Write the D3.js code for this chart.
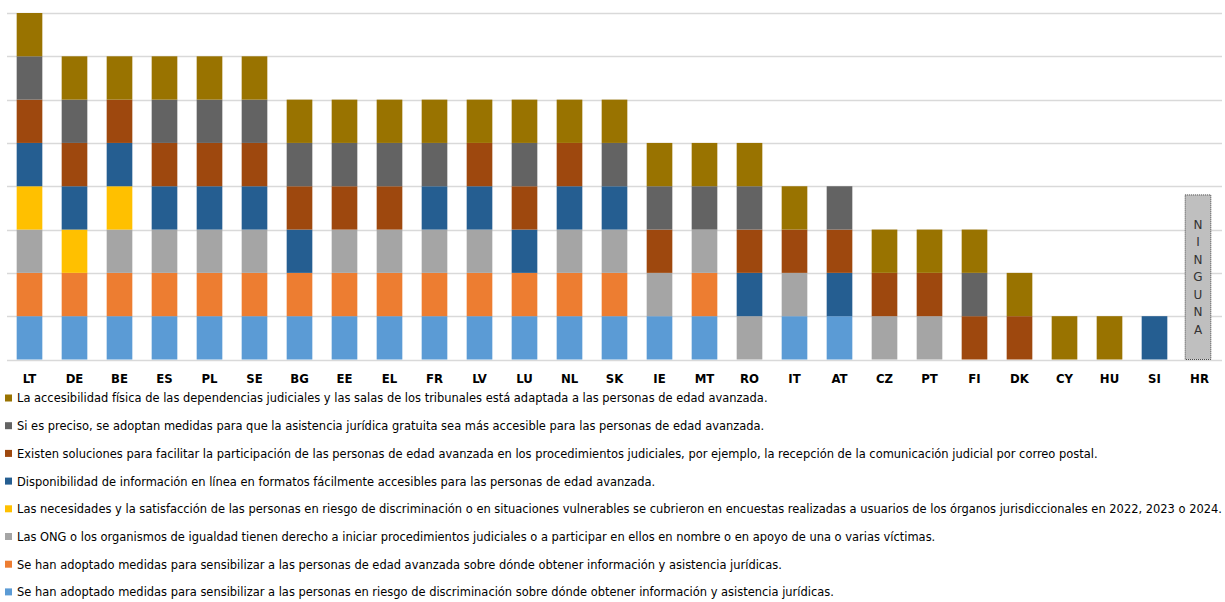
<!DOCTYPE html>
<meta charset="utf-8">
<script src="https://d3js.org/d3.v7.min.js"></script>
<style type="text/css">
body { margin: 0; background: #fff; }
.grid line { stroke: #d9d9d9; stroke-width: 1.3px; }
.xlab { font-family: "DejaVu Sans Condensed", sans-serif; font-weight: bold; font-size: 13px; fill: #000; }
.legend text { font-family: "DejaVu Sans Condensed", sans-serif; font-size: 13px; fill: #000; }
.none text { font-family: "DejaVu Sans", sans-serif; font-size: 12px; fill: #333; }
</style>
<body>
<div id="chart"></div>
</body>
<script>

// countries, left to right
var countries = ["LT","DE","BE","ES","PL","SE","BG","EE","EL","FR","LV","LU","NL","SK","IE","MT","RO","IT","AT","CZ","PT","FI","DK","CY","HU","SI","HR"];

// series, bottom of the stack first
var seriesNames = [
  "Se han adoptado medidas para sensibilizar a las personas en riesgo de discriminación sobre dónde obtener información y asistencia jurídicas.",
  "Se han adoptado medidas para sensibilizar a las personas de edad avanzada sobre dónde obtener información y asistencia jurídicas.",
  "Las ONG o los organismos de igualdad tienen derecho a iniciar procedimientos judiciales o a participar en ellos en nombre o en apoyo de una o varias víctimas.",
  "Las necesidades y la satisfacción de las personas en riesgo de discriminación o en situaciones vulnerables se cubrieron en encuestas realizadas a usuarios de los órganos jurisdiccionales en 2022, 2023 o 2024.",
  "Disponibilidad de información en línea en formatos fácilmente accesibles para las personas de edad avanzada.",
  "Existen soluciones para facilitar la participación de las personas de edad avanzada en los procedimientos judiciales, por ejemplo, la recepción de la comunicación judicial por correo postal.",
  "Si es preciso, se adoptan medidas para que la asistencia jurídica gratuita sea más accesible para las personas de edad avanzada.",
  "La accesibilidad física de las dependencias judiciales y las salas de los tribunales está adaptada a las personas de edad avanzada."
];
var seriesColors = ["#5b9bd5","#ed7d31","#a5a5a5","#ffc000","#255e91","#9e480e","#636363","#997300"];

// 1 = measure in place, one row per series (same order as seriesNames)
//                 LT DE BE ES PL SE BG EE EL FR LV LU NL SK IE MT RO IT AT CZ PT FI DK CY HU SI HR
var sRiesgo     = [1, 1, 1, 1, 1, 1, 1, 1, 1, 1, 1, 1, 1, 1, 1, 1, 0, 1, 1, 0, 0, 0, 0, 0, 0, 0, 0];
var sEdad       = [1, 1, 1, 1, 1, 1, 1, 1, 1, 1, 1, 1, 1, 1, 0, 1, 0, 0, 0, 0, 0, 0, 0, 0, 0, 0, 0];
var sOng        = [1, 0, 1, 1, 1, 1, 0, 1, 1, 1, 1, 0, 1, 1, 1, 1, 1, 1, 0, 1, 1, 0, 0, 0, 0, 0, 0];
var sEncuestas  = [1, 1, 1, 0, 0, 0, 0, 0, 0, 0, 0, 0, 0, 0, 0, 0, 0, 0, 0, 0, 0, 0, 0, 0, 0, 0, 0];
var sEnLinea    = [1, 1, 1, 1, 1, 1, 1, 0, 0, 1, 1, 1, 1, 1, 0, 0, 1, 0, 1, 0, 0, 0, 0, 0, 0, 1, 0];
var sSoluciones = [1, 1, 1, 1, 1, 1, 1, 1, 1, 0, 1, 1, 1, 0, 1, 0, 1, 1, 1, 1, 1, 1, 1, 0, 0, 0, 0];
var sGratuita   = [1, 1, 0, 1, 1, 1, 1, 1, 1, 1, 0, 1, 0, 1, 1, 1, 1, 0, 1, 0, 0, 1, 0, 0, 0, 0, 0];
var sFisica     = [1, 1, 1, 1, 1, 1, 1, 1, 1, 1, 1, 1, 1, 1, 1, 1, 1, 1, 0, 1, 1, 1, 1, 1, 1, 0, 0];
var seriesValues = [sRiesgo, sEdad, sOng, sEncuestas, sEnLinea, sSoluciones, sGratuita, sFisica];

// placeholder column for the country with no measure
var noneCountry = "HR";
var noneLabel = "NINGUNA";
var noneHeight = 3.8;

var yTicks = [0,1,2,3,4,5,6,7,8];

var width = 1225, height = 602;
var plotLeft = 7, plotRight = 1222, plotTop = 13, plotBottom = 359.5;

var svg = d3.select("#chart").append("svg")
    .attr("width", width)
    .attr("height", height);

var xScale = d3.scaleBand()
    .domain(countries)
    .range([plotLeft, plotRight])
    .paddingInner(0.43)
    .paddingOuter(0.215);

var yScale = d3.scaleLinear()
    .domain([0, 8])
    .range([plotBottom, plotTop]);

// gridlines
svg.append("g")
    .attr("class", "grid")
    .selectAll("line")
    .data(yTicks)
    .enter()
    .append("line")
    .attr("x1", plotLeft)
    .attr("x2", plotRight)
    .attr("y1", function(d) { return Math.round(yScale(d)) + 0.5; })
    .attr("y2", function(d) { return Math.round(yScale(d)) + 0.5; });

// build stacked rows
var rows = countries.map(function(c, i) {
    var r = {country: c};
    seriesValues.forEach(function(s, k) { r["s" + k] = s[i]; });
    return r;
});
var keys = seriesValues.map(function(s, k) { return "s" + k; });
var stacked = d3.stack().keys(keys)(rows);

svg.selectAll(".layer")
    .data(stacked)
    .enter()
    .append("g")
    .attr("class", "layer")
    .attr("fill", function(d, k) { return seriesColors[k]; })
    .selectAll("rect")
    .data(function(d) { return d.filter(function(p) { return p[1] > p[0]; }); })
    .enter()
    .append("rect")
    .attr("x", function(p) { return xScale(p.data.country); })
    .attr("width", xScale.bandwidth())
    .attr("y", function(p) { return yScale(p[1]); })
    .attr("height", function(p) { return yScale(p[0]) - yScale(p[1]); });

// "NINGUNA" box
var noneG = svg.append("g").attr("class", "none");
var nx = xScale(noneCountry) - 1.5;
noneG.append("rect")
    .attr("x", nx)
    .attr("y", yScale(noneHeight))
    .attr("width", xScale.bandwidth())
    .attr("height", yScale(0) - yScale(noneHeight))
    .attr("fill", "#bfbfbf")
    .attr("stroke", "#404040")
    .attr("stroke-width", 1)
    .attr("stroke-dasharray", "1,1");

var letters = noneLabel.split("");
var midY = (yScale(0) + yScale(noneHeight)) / 2;
var step = 17.5;
noneG.selectAll("text")
    .data(letters)
    .enter()
    .append("text")
    .attr("x", nx + xScale.bandwidth() / 2)
    .attr("y", function(d, i) { return midY + (i - (letters.length - 1) / 2) * step; })
    .attr("dy", "0.35em")
    .attr("text-anchor", "middle")
    .text(function(d) { return d; });

// x labels
svg.append("g")
    .selectAll("text")
    .data(countries)
    .enter()
    .append("text")
    .attr("class", "xlab")
    .attr("x", function(d) { return xScale(d) + xScale.bandwidth() / 2; })
    .attr("y", 378)
    .attr("dy", "0.35em")
    .attr("text-anchor", "middle")
    .text(function(d) { return d; });

// legend, top entry is the top of the stack
var legendOrder = d3.range(seriesNames.length).reverse();
var legend = svg.append("g")
    .attr("class", "legend")
    .selectAll("g")
    .data(legendOrder)
    .enter()
    .append("g")
    .attr("transform", function(d, i) { return "translate(0," + (398 + i * 27.7) + ")"; });

legend.append("rect")
    .attr("x", 5)
    .attr("y", -3.5)
    .attr("width", 7)
    .attr("height", 7)
    .attr("fill", function(k) { return seriesColors[k]; });

var legendText = legend.append("text")
    .attr("x", 17)
    .attr("dy", "0.35em")
    .text(function(k) { return seriesNames[k]; });

// shrink the font until the longest entry fits the page
var longest = d3.max(legendText.nodes(), function(n) { return n.getComputedTextLength(); });
var room = width - 17 - 2;
if (longest > room) {
    legendText.style("font-size", (13 * room / longest) + "px");
}

</script>
